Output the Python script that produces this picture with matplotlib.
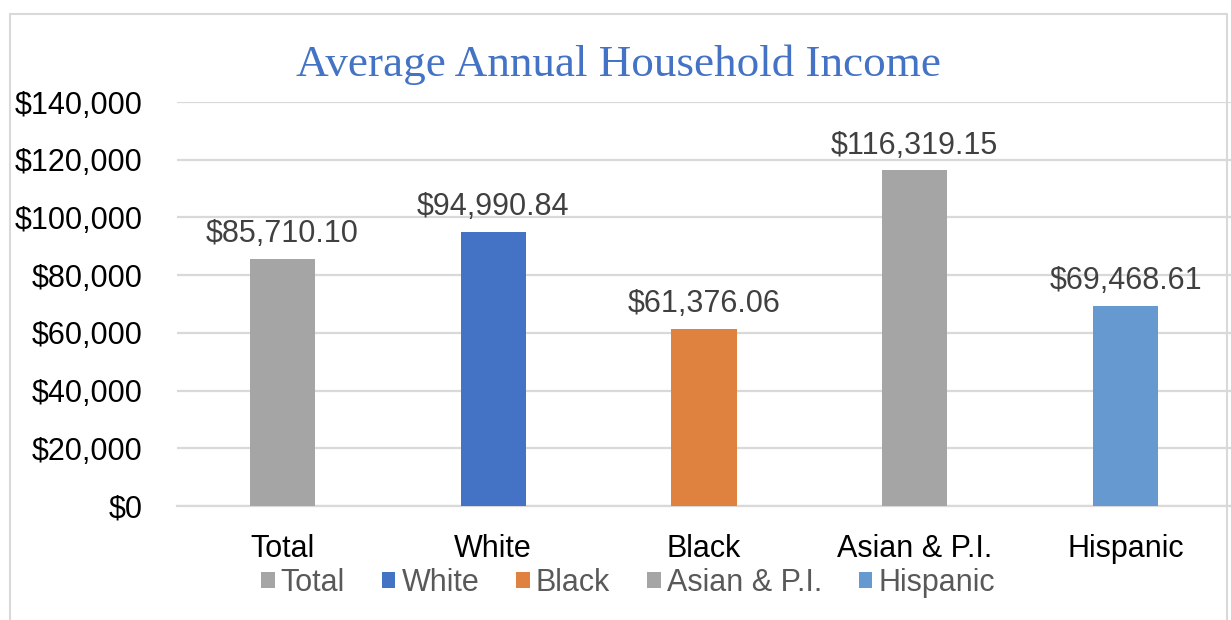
import matplotlib.pyplot as plt
from matplotlib.patches import Rectangle

categories = ['Total', 'White', 'Black', 'Asian & P.I.', 'Hispanic']
incomes = [85710.10, 94990.84, 61376.06, 116319.15, 69468.61]
bar_colors = ['#A5A5A5', '#4472C4', '#E0823F', '#A5A5A5', '#6699D0']
y_ticks = [0, 20000, 40000, 60000, 80000, 100000, 120000, 140000]

plt.rcParams['font.family'] = ['Liberation Sans', 'DejaVu Sans']

fig = plt.figure(figsize=(12.31, 6.2), dpi=100)
ax = fig.add_axes([177/1231, 114/620, (1231 - 177)/1231, (506 - 102)/620])

bars = ax.bar(range(len(categories)), incomes, width=0.31, color=bar_colors,
              label=categories, zorder=3)
ax.bar_label(bars, labels=[f"${v:,.2f}" for v in incomes], padding=7,
             fontsize=22, color='#404040')

ax.set_xlim(-0.5, len(categories) - 0.5)
ax.set_ylim(0, 140000)
ax.set_yticks(y_ticks)
ax.set_yticklabels([f"${t:,}" for t in y_ticks])
ax.set_xticks(range(len(categories)))
ax.set_xticklabels(categories)
ax.tick_params(axis='y', length=0, pad=25, labelsize=22, labelcolor='black')
ax.tick_params(axis='x', length=0, pad=20, labelsize=22, labelcolor='black')
ax.grid(axis='y', color='#D9D9D9', linewidth=1.6, zorder=0)
for s in ['top', 'right', 'left']:
    ax.spines[s].set_visible(False)
ax.spines['bottom'].set_color('#D9D9D9')
ax.spines['bottom'].set_linewidth(1.6)

fig.text(619/1231, 555/620, 'Average Annual Household Income', ha='center', va='center',
         fontsize=32.5, color='#4472C4', family='Liberation Serif')

fig.legend(handles=list(bars), labels=categories, loc='center',
           bbox_to_anchor=(628/1231, 37/620), ncol=5, frameon=False,
           fontsize=22, labelcolor='#595959', handlelength=0.45, handleheight=0.45,
           handletextpad=0.2, columnspacing=1.2, borderpad=0)

fig.patches.append(Rectangle((10/1231, -0.05), 1217/1231, 1.05 - 14/620,
                             transform=fig.transFigure, fill=False,
                             edgecolor='#D9D9D9', linewidth=1.5))

fig.savefig('out.png', dpi=100)
